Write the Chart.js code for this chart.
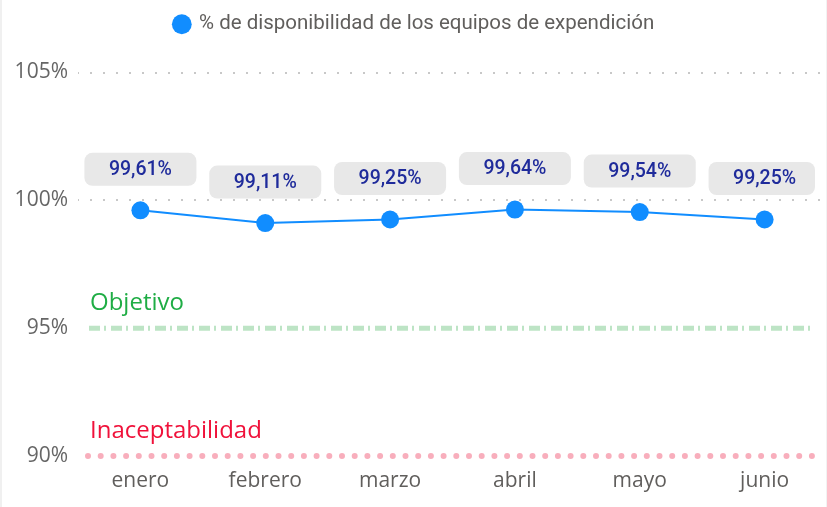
<!DOCTYPE html>
<html>
<head>
<meta charset="utf-8">
<script src="https://cdn.jsdelivr.net/npm/chart.js@4/dist/chart.umd.min.js"></script>
<style>
  html, body { margin: 0; padding: 0; background: #fff; overflow: hidden; }
  #wrap { position: relative; width: 827px; height: 507px; box-sizing: border-box; border-left: 2px solid #f0f0f0; }
  #wrap::after { content: ''; position: absolute; right: 0; top: 0; width: 1px; height: 100%; background: #f2f2f2; }
  canvas { display: block; }
</style>
</head>
<body>
<div id="wrap"><canvas id="disponibilidad"></canvas></div>
<script>
// datos del gráfico
var meses = ['enero', 'febrero', 'marzo', 'abril', 'mayo', 'junio'];
var disponibilidad = [99.61, 99.11, 99.25, 99.64, 99.54, 99.25];
var ticksEje = [90, 95, 100, 105];
var objetivo = 95;
var inaceptable = 90;

function formatoPct(v, dec) {
    return v.toFixed(dec).replace('.', ',') + '%';
}

// espacio extra debajo de la leyenda
var espacioLeyenda = {
    id: 'espacioLeyenda',
    beforeInit: function(chart) {
        var fitOriginal = chart.legend.fit;
        chart.legend.fit = function() {
            fitOriginal.bind(chart.legend)();
            this.height += 28;
        };
    }
};

// lineas de objetivo e inaceptabilidad
var lineasReferencia = {
    id: 'lineasReferencia',
    beforeDatasetsDraw: function(chart) {
        var ctx = chart.ctx, area = chart.chartArea, y = chart.scales.y;
        var x0 = area.left + 11, x1 = area.right - 13;
        ctx.save();

        // Objetivo
        var yo = y.getPixelForValue(objetivo);
        ctx.lineWidth = 5;
        ctx.strokeStyle = 'rgba(135, 206, 150, 0.55)';
        ctx.setLineDash([11, 4, 2, 5]);
        ctx.beginPath(); ctx.moveTo(x0, yo); ctx.lineTo(x1, yo); ctx.stroke();
        ctx.fillStyle = '#1fad45';
        ctx.font = '24px "Open Sans", sans-serif';
        ctx.textBaseline = 'alphabetic';
        ctx.fillText('Objetivo', area.left + 12, yo - 18);

        // Inaceptabilidad
        var yi = y.getPixelForValue(inaceptable);
        ctx.lineWidth = 6;
        ctx.lineCap = 'round';
        ctx.strokeStyle = 'rgba(245, 140, 160, 0.7)';
        ctx.setLineDash([0, 12.7]);
        ctx.beginPath(); ctx.moveTo(x0 - 1, yi); ctx.lineTo(x1, yi); ctx.stroke();
        ctx.fillStyle = '#f0113a';
        ctx.fillText('Inaceptabilidad', area.left + 12, yi - 18);
        ctx.restore();
    }
};

// etiquetas de datos con fondo gris
var etiquetasDatos = {
    id: 'etiquetasDatos',
    afterDatasetsDraw: function(chart) {
        var ctx = chart.ctx;
        var meta = chart.getDatasetMeta(0);
        ctx.save();
        ctx.font = '500 19.5px Roboto, sans-serif';
        ctx.textAlign = 'center';
        ctx.textBaseline = 'middle';
        meta.data.forEach(function(punto, i) {
            var w = 112, h = 33;
            var cx = punto.x, cy = punto.y - 41;
            var left = cx - w / 2;
            var right = Math.min(cx + w / 2, chart.chartArea.right - 12);
            ctx.fillStyle = '#e8e8e8';
            ctx.beginPath();
            ctx.roundRect(left, cy - h / 2, right - left, h, 8);
            ctx.fill();
            ctx.fillStyle = '#1f2b9b';
            ctx.fillText(formatoPct(disponibilidad[i], 2), cx, cy + 1);
        });
        ctx.restore();
    }
};

var ctx = document.getElementById('disponibilidad').getContext('2d');
var chartDisponibilidad = new Chart(ctx, {
    type: 'line',
    data: {
        labels: meses,
        datasets: [{
            label: '% de disponibilidad de los equipos de expendición',
            data: disponibilidad,
            borderColor: '#118dff',
            backgroundColor: '#118dff',
            borderWidth: 2,
            pointRadius: 9,
            pointHoverRadius: 9,
            pointBorderWidth: 0,
            tension: 0
        }]
    },
    options: {
        responsive: true,
        maintainAspectRatio: false,
        animation: false,
        layout: { autoPadding: false, padding: { top: 4, right: 0, bottom: 0, left: 0 } },
        plugins: {
            tooltip: { enabled: false },
            legend: {
                position: 'top',
                labels: {
                    usePointStyle: true,
                    pointStyle: 'circle',
                    boxWidth: 14,
                    boxHeight: 14,
                    padding: 10,
                    color: '#605e5c',
                    font: { family: 'Roboto, sans-serif', size: 20.5 }
                }
            }
        },
        scales: {
            x: {
                offset: true,
                grid: { display: false, drawTicks: false },
                border: { display: false },
                ticks: {
                    color: '#605e5c',
                    padding: 12,
                    font: { family: '"Open Sans", sans-serif', size: 21 }
                },
                afterFit: function(scale) {
                    scale.height = 51;
                    scale.paddingLeft = 0;
                    scale.paddingRight = 0;
                }
            },
            y: {
                min: 90,
                max: 105,
                afterBuildTicks: function(scale) {
                    scale.ticks = ticksEje.map(function(v) { return { value: v }; });
                },
                grid: {
                    drawTicks: false,
                    lineWidth: 2,
                    color: function(c) {
                        return c.tick && c.tick.value >= 100 ? '#c8c8c8' : 'rgba(0,0,0,0)';
                    }
                },
                border: { display: false, dash: [2, 11], dashOffset: -12 },
                ticks: {
                    color: '#666666',
                    padding: 10,
                    font: { family: '"Open Sans", sans-serif', size: 21 },
                    callback: function(v) { return v + '%'; }
                },
                afterFit: function(scale) { scale.width = 76; }
            }
        }
    },
    plugins: [espacioLeyenda, lineasReferencia, etiquetasDatos]
});
</script>
</body>
</html>
